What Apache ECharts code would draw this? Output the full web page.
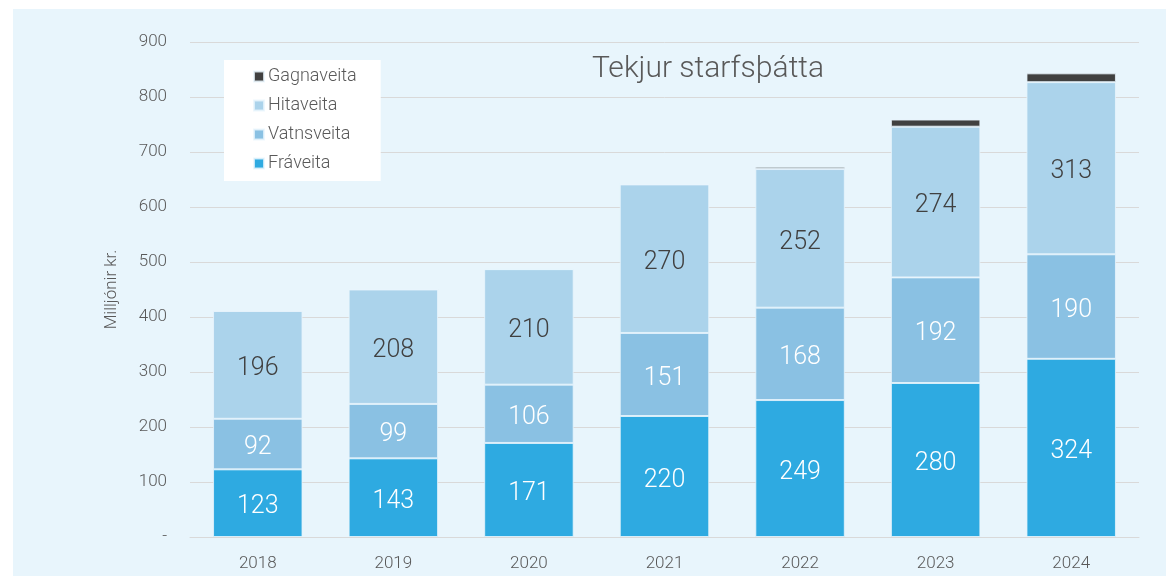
<!DOCTYPE html>
<html>
<head>
<meta charset="utf-8">
<script src="https://cdn.jsdelivr.net/npm/echarts@6/dist/echarts.min.js"></script>
<style>
  html, body { margin: 0; padding: 0; background: #fff; }
  #chart { width: 1166px; height: 576px; }
</style>
</head>
<body>
<div id="chart"></div>
<script>
// ár og tölur (milljónir kr.)
const years = ['2018', '2019', '2020', '2021', '2022', '2023', '2024']
const fraveita = [123, 143, 171, 220, 249, 280, 324]
const vatnsveita = [92, 99, 106, 151, 168, 192, 190]
const hitaveita = [196, 208, 210, 270, 252, 274, 313]
const gagnaveita = [0, 0, 0, 0, 4, 13, 16]
const yTicks = [0, 100, 200, 300, 400, 500, 600, 700, 800, 900]

const font = 'Roboto'
const myChart = echarts.init(document.getElementById('chart'))

function seg (name, data, color, labelColor) {
  return {
    name: name,
    type: 'bar',
    stack: 'total',
    barWidth: '66%',
    data: data,
    itemStyle: {
      color: color,
      borderColor: 'rgba(232,245,252,0.8)',
      borderWidth: 1
    },
    label: {
      show: labelColor !== null,
      position: 'inside',
      offset: [0, 4],
      color: labelColor,
      fontFamily: font,
      fontWeight: 300,
      fontSize: 25
    }
  }
}

myChart.setOption({
  backgroundColor: '#ffffff',
  animation: false,
  graphic: [{
    type: 'rect',
    z: -10,
    shape: { x: 13, y: 9, width: 1153, height: 567 },
    style: { fill: '#E8F5FC' }
  }],
  title: {
    text: 'Tekjur starfsþátta',
    left: 703,
    textAlign: 'center',
    top: 49,
    textStyle: {
      fontFamily: font,
      fontWeight: 300,
      fontSize: 30,
      color: '#595959'
    }
  },
  legend: {
    orient: 'vertical',
    left: 224,
    top: 60,
    padding: [7, 24, 8, 29],
    backgroundColor: '#ffffff',
    itemWidth: 10,
    itemHeight: 10,
    itemGap: 10,
    icon: 'rect',
    data: ['Gagnaveita', 'Hitaveita', 'Vatnsveita', 'Fráveita'],
    textStyle: {
      fontFamily: font,
      fontWeight: 300,
      fontSize: 18,
      lineHeight: 19,
      color: '#595959',
      padding: [0, 0, 0, -1]
    }
  },
  grid: {
    left: 190,
    right: 27,
    top: 42,
    bottom: 39
  },
  xAxis: {
    type: 'category',
    data: years,
    axisLine: { lineStyle: { color: '#D9D9D9' } },
    axisTick: { show: false },
    axisLabel: {
      margin: 18,
      fontFamily: font,
      fontWeight: 300,
      fontSize: 17,
      color: '#595959'
    }
  },
  yAxis: {
    type: 'value',
    min: yTicks[0],
    max: yTicks[yTicks.length - 1],
    interval: 100,
    name: 'Milljónir kr.',
    nameLocation: 'middle',
    nameGap: 70,
    nameTextStyle: {
      fontFamily: font,
      fontWeight: 300,
      fontSize: 17,
      color: '#595959'
    },
    axisLine: { show: false },
    axisTick: { show: false },
    splitLine: { lineStyle: { color: '#D9D9D9', width: 1 } },
    axisLabel: {
      margin: 23,
      fontFamily: font,
      fontWeight: 300,
      fontSize: 17,
      color: '#595959',
      formatter: v => (v === 0 ? '-' : String(v))
    }
  },
  series: [
    seg('Fráveita', fraveita, '#2EAAE1', '#ffffff'),
    seg('Vatnsveita', vatnsveita, '#8AC1E3', '#ffffff'),
    seg('Hitaveita', hitaveita, '#ABD3EB', '#404040'),
    seg('Gagnaveita', gagnaveita, '#404040', null)
  ]
})
</script>
</body>
</html>
